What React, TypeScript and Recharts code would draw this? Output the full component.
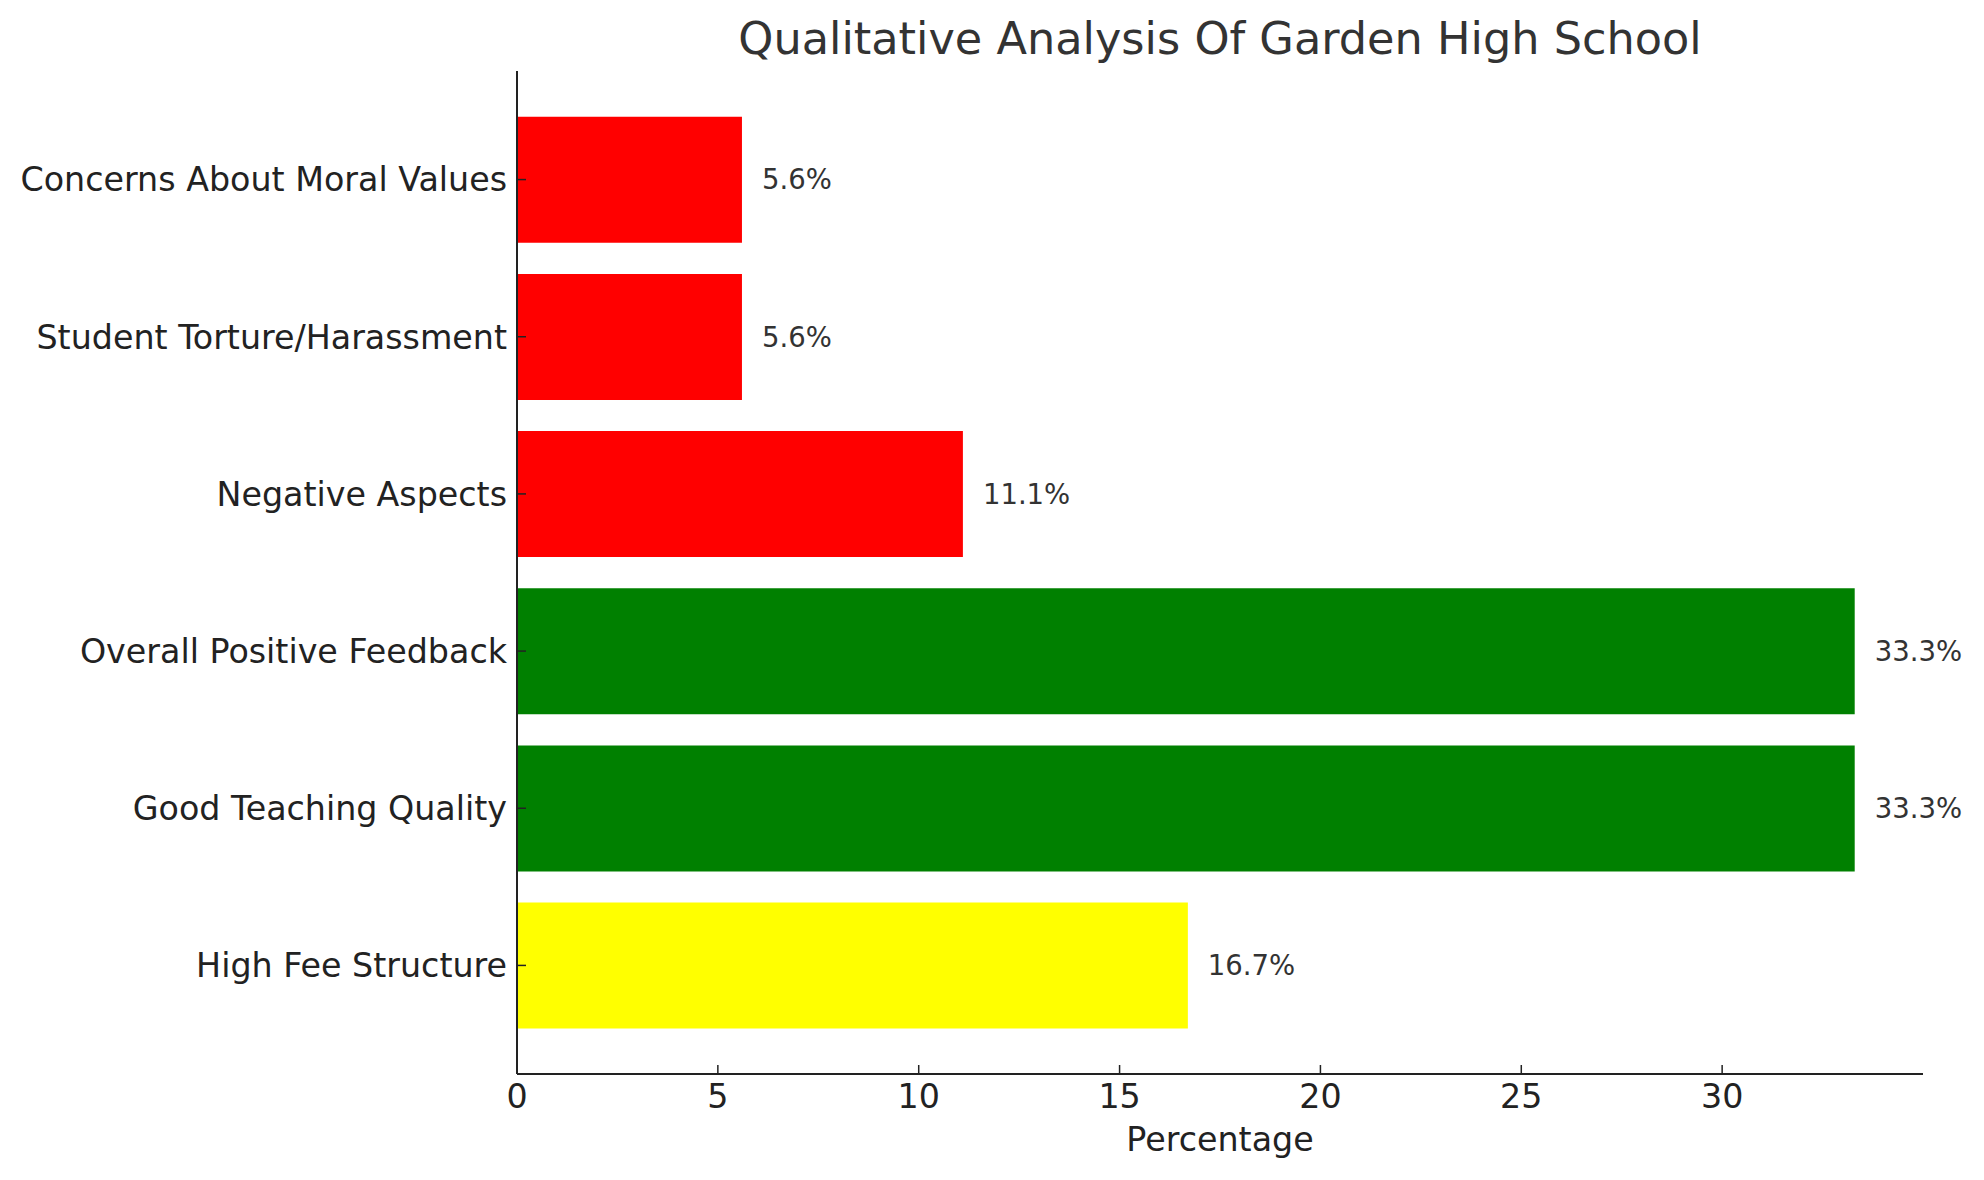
import { BarChart, Bar, XAxis, YAxis, Cell, LabelList, Label } from 'recharts';

const categories = [
  'Concerns About Moral Values',
  'Student Torture/Harassment',
  'Negative Aspects',
  'Overall Positive Feedback',
  'Good Teaching Quality',
  'High Fee Structure',
];
const percentages = [5.6, 5.6, 11.1, 33.3, 33.3, 16.7];
const barColors = ['#ff0000', '#ff0000', '#ff0000', '#008000', '#008000', '#ffff00'];
const xTicks = [0, 5, 10, 15, 20, 25, 30];

const data = categories.map((name, i) => ({ name, value: percentages[i], color: barColors[i] }));

const FONT = '"DejaVu Sans", sans-serif';
const AXIS = '#222222';

export default function App() {
  return (
    <div style={{ position: 'absolute', left: 0, top: 0, width: 1984, height: 1180, background: '#fff', fontFamily: FONT }}>
      <div
        style={{
          position: 'absolute',
          left: 720,
          top: 17,
          width: 1000,
          textAlign: 'center',
          fontSize: 44.6,
          lineHeight: '44px',
          color: '#333333',
          whiteSpace: 'nowrap',
        }}
      >
        Qualitative Analysis Of Garden High School
      </div>
      <BarChart
        width={1984}
        height={1180}
        data={data}
        layout="vertical"
        barCategoryGap="10%"
        margin={{ top: 71, right: 61, left: 0, bottom: 0 }}
      >
        <XAxis
          type="number"
          domain={[0, 35]}
          ticks={xTicks}
          allowDataOverflow
          height={106}
          tickSize={-9}
          tickMargin={19}
          axisLine={{ stroke: AXIS, strokeWidth: 2 }}
          tickLine={{ stroke: AXIS, strokeWidth: 1.5 }}
          tick={{ fill: AXIS, fontSize: 33.3, fontFamily: FONT }}
        >
          <Label value="Percentage" position="insideBottom" offset={29} fill={AXIS} fontSize={33.3} fontFamily={FONT} />
        </XAxis>
        <YAxis
          type="category"
          dataKey="name"
          width={517}
          interval={0}
          padding={{ top: 30, bottom: 30 }}
          tickSize={-9}
          tickMargin={19}
          axisLine={{ stroke: AXIS, strokeWidth: 2 }}
          tickLine={{ stroke: AXIS, strokeWidth: 1.5 }}
          tick={{ fill: AXIS, fontSize: 33.3, fontFamily: FONT }}
        />
        <Bar dataKey="value" isAnimationActive={false}>
          {data.map((d, i) => (
            <Cell key={`cell-${i}`} fill={d.color} />
          ))}
          <LabelList
            dataKey="value"
            position="right"
            offset={20}
            formatter={(v: number) => `${Number(v).toFixed(1)}%`}
            fill="#333333"
            fontSize={27.5}
            fontFamily={FONT}
          />
        </Bar>
      </BarChart>
    </div>
  );
}
